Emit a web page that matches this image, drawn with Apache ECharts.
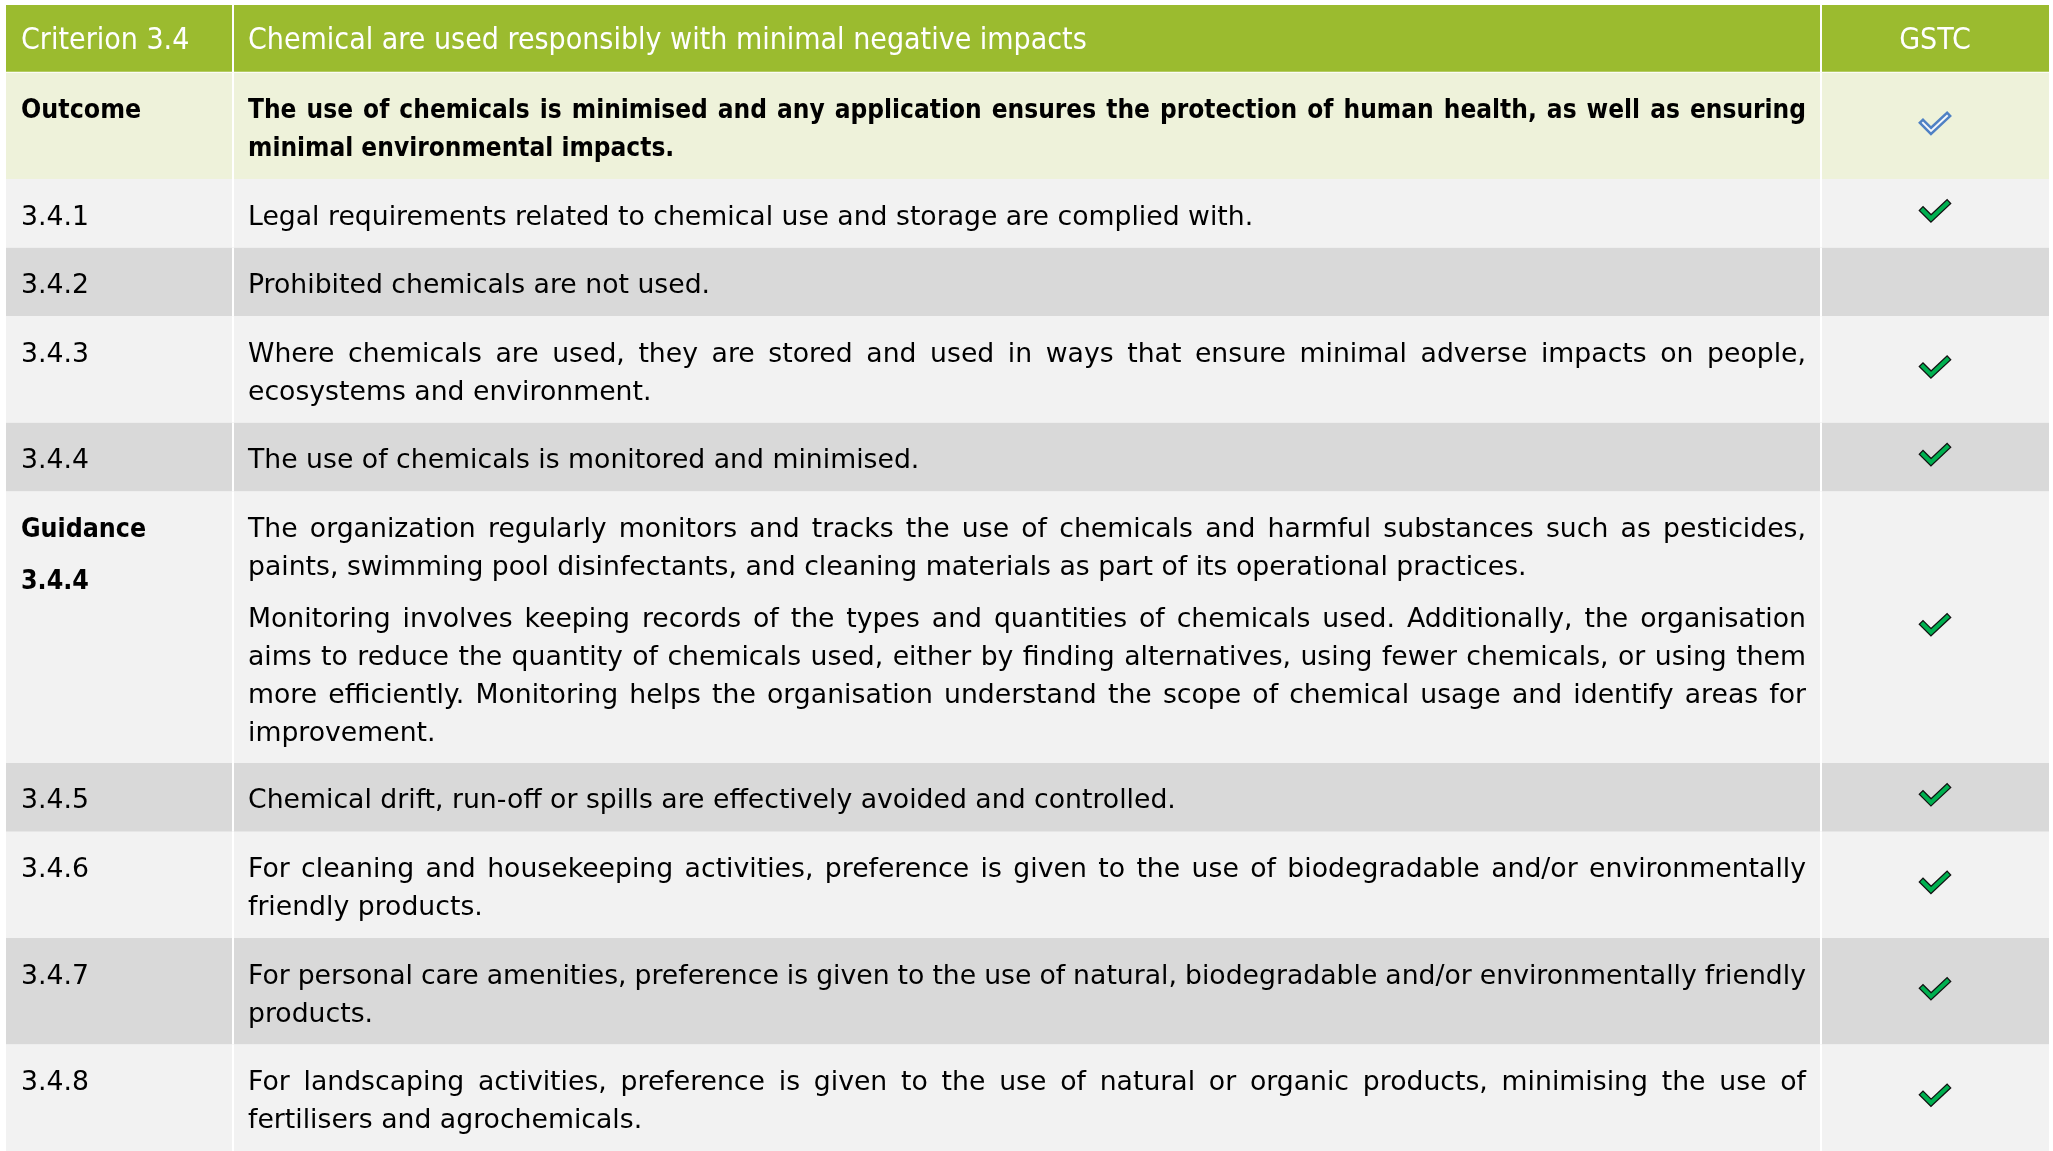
<!DOCTYPE html>
<html>
<head>
<meta charset="utf-8">
<title>Criterion 3.4</title>
<script src="https://cdn.jsdelivr.net/npm/echarts@6/dist/echarts.min.js"></script>
<style>
html, body { margin: 0; padding: 0; background: #fff; }
#main { width: 2053px; height: 1151px; }
</style>
</head>
<body>
<div id="main"></div>
<script>
// table content
var headerCells = ['Criterion 3.4', 'Chemical are used responsibly with minimal negative impacts', 'GSTC'];
var rowLabels = ['Outcome', '3.4.1', '3.4.2', '3.4.3', '3.4.4', 'Guidance\n\n3.4.4', '3.4.5', '3.4.6', '3.4.7', '3.4.8'];
var rowTexts = [
    'The use of chemicals is minimised and any application ensures the protection of human health, as well as ensuring\nminimal environmental impacts.',
    'Legal requirements related to chemical use and storage are complied with.',
    'Prohibited chemicals are not used.',
    'Where chemicals are used, they are stored and used in ways that ensure minimal adverse impacts on people,\necosystems and environment.',
    'The use of chemicals is monitored and minimised.',
    'The organization regularly monitors and tracks the use of chemicals and harmful substances such as pesticides,\npaints, swimming pool disinfectants, and cleaning materials as part of its operational practices.\n\nMonitoring involves keeping records of the types and quantities of chemicals used. Additionally, the organisation\naims to reduce the quantity of chemicals used, either by finding alternatives, using fewer chemicals, or using them\nmore efficiently. Monitoring helps the organisation understand the scope of chemical usage and identify areas for\nimprovement.',
    'Chemical drift, run-off or spills are effectively avoided and controlled.',
    'For cleaning and housekeeping activities, preference is given to the use of biodegradable and/or environmentally\nfriendly products.',
    'For personal care amenities, preference is given to the use of natural, biodegradable and/or environmentally friendly\nproducts.',
    'For landscaping activities, preference is given to the use of natural or organic products, minimising the use of\nfertilisers and agrochemicals.'
];
var gstcMarks = ['outcome', 'yes', '', 'yes', 'yes', 'yes', 'yes', 'yes', 'yes', 'yes'];

// layout and style
var COL_W = [227, 1588, 228];
var TABLE_W = COL_W[0] + COL_W[1] + COL_W[2];
var PAD_L = 15, PAD_R = 15;
var HEADER_H = 68, ROW_H = 69, LINE_H = 38, PARA_GAP = 14;
var TEXT_DY = 4, HEAD_DY = 2;
var GREEN = '#9BBB2F', OUTCOME_BG = '#EEF2DA', LIGHT_BG = '#F2F2F2', DARK_BG = '#D9D9D9';
var FONT_BODY = '26.7px "DejaVu Sans"';
var FONT_HEAD = '30px "DejaVu Sans Condensed"';
var FONT_LABEL_BOLD = 'bold 26.5px "DejaVu Sans Condensed"';
var FONT_OUTCOME = 'bold 26px "DejaVu Sans Condensed"';

var ctx = document.createElement('canvas').getContext('2d');
function textWidth(s, font) {
    ctx.font = font;
    return ctx.measureText(s).width;
}
function paragraphs(s) {
    return s.split('\n\n').map(function (p) { return p.split('\n'); });
}
function blockHeight(s) {
    var ps = paragraphs(s), n = 0;
    ps.forEach(function (p) { n += p.length; });
    return ROW_H + (n - 1) * LINE_H + (ps.length - 1) * PARA_GAP;
}

// row heights from the number of text lines
var rowHeights = [HEADER_H];
rowTexts.forEach(function (t, i) {
    rowHeights.push(Math.max(blockHeight(t), blockHeight(rowLabels[i])));
});
var rowTops = [0];
for (var k = 1; k < rowHeights.length; k++) rowTops.push(rowTops[k - 1] + rowHeights[k - 1]);
var TABLE_H = rowTops[rowTops.length - 1] + rowHeights[rowHeights.length - 1];

// text block: left aligned, or justified on all but the last line of a paragraph
function textBlock(s, x0, y0, width, font, fill, justify) {
    var out = [];
    var y = y0 + ROW_H / 2 + TEXT_DY;
    paragraphs(s).forEach(function (lines, pi) {
        if (pi > 0) y += PARA_GAP;
        lines.forEach(function (line, li) {
            var words = line.split(' ');
            if (justify && li < lines.length - 1 && words.length > 1) {
                var total = 0;
                words.forEach(function (w) { total += textWidth(w, font); });
                var gap = (width - total) / (words.length - 1);
                var x = x0;
                words.forEach(function (w) {
                    out.push({ type: 'text', style: { x: x, y: y, text: w, font: font, fill: fill, align: 'left', verticalAlign: 'middle' } });
                    x += textWidth(w, font) + gap;
                });
            } else {
                out.push({ type: 'text', style: { x: x0, y: y, text: line, font: font, fill: fill, align: 'left', verticalAlign: 'middle' } });
            }
            y += LINE_H;
        });
    });
    return out;
}

function checkMark(cx, cy, kind) {
    var pts = [[cx - 12, cy - 1], [cx - 4, cy + 7], [cx + 12, cy - 8]];
    var blue = kind === 'outcome';
    return [
        { type: 'polyline', shape: { points: pts }, style: { stroke: blue ? '#4F81C4' : '#111', lineWidth: blue ? 7 : 6.5, fill: null, lineJoin: 'miter', lineCap: 'square' } },
        { type: 'polyline', shape: { points: pts }, style: { stroke: blue ? '#F4F7FB' : '#00B050', lineWidth: blue ? 2 : 4, fill: null, lineJoin: 'miter', lineCap: 'square' } }
    ];
}

function renderRow(params, api) {
    var r = api.value(0);
    var tl = api.coord([0, rowTops[r]]);
    var br = api.coord([TABLE_W, rowTops[r] + rowHeights[r]]);
    var x1 = api.coord([COL_W[0], 0])[0];
    var x2 = api.coord([COL_W[0] + COL_W[1], 0])[0];
    var h = br[1] - tl[1];
    var bg = r === 0 ? GREEN : r === 1 ? OUTCOME_BG : (r % 2 === 0 ? LIGHT_BG : DARK_BG);
    var children = [
        { type: 'rect', shape: { x: tl[0], y: tl[1], width: br[0] - tl[0], height: h }, style: { fill: bg } }
    ];
    if (r === 0) {
        var ym = tl[1] + h / 2 + HEAD_DY;
        children.push({ type: 'text', style: { x: tl[0] + PAD_L, y: ym, text: headerCells[0], font: FONT_HEAD, fill: '#fff', align: 'left', verticalAlign: 'middle' } });
        children.push({ type: 'text', style: { x: x1 + PAD_L, y: ym, text: headerCells[1], font: FONT_HEAD, fill: '#fff', align: 'left', verticalAlign: 'middle' } });
        children.push({ type: 'text', style: { x: (x2 + br[0]) / 2, y: ym, text: headerCells[2], font: FONT_HEAD, fill: '#fff', align: 'center', verticalAlign: 'middle' } });
        children.push({ type: 'rect', shape: { x: tl[0], y: br[1] - 1, width: br[0] - tl[0], height: 2 }, style: { fill: '#fff' } });
    } else {
        var i = r - 1;
        var label = rowLabels[i];
        var labelFont = /^[A-Z]/.test(label) ? FONT_LABEL_BOLD : FONT_BODY;
        children = children.concat(textBlock(label, tl[0] + PAD_L, tl[1], COL_W[0], labelFont, '#000', false));
        children = children.concat(textBlock(rowTexts[i], x1 + PAD_L, tl[1], x2 - x1 - PAD_L - PAD_R,
            i === 0 ? FONT_OUTCOME : FONT_BODY, '#000', true));
        if (gstcMarks[i]) {
            children = children.concat(checkMark((x2 + br[0]) / 2, tl[1] + h / 2 - 2, gstcMarks[i]));
        }
    }
    // white column rules
    children.push({ type: 'rect', shape: { x: x1 - 1, y: tl[1], width: 2, height: h }, style: { fill: '#fff' } });
    children.push({ type: 'rect', shape: { x: x2 - 1, y: tl[1], width: 2, height: h }, style: { fill: '#fff' } });
    return { type: 'group', children: children };
}

var rowData = rowHeights.map(function (h, i) { return [i]; });

var chart = echarts.init(document.getElementById('main'));
var option = {
    animation: false,
    grid: { left: 6, top: 5, width: TABLE_W, height: TABLE_H },
    xAxis: { type: 'value', min: 0, max: TABLE_W, show: false },
    yAxis: { type: 'value', min: 0, max: TABLE_H, inverse: true, show: false },
    series: [{
        type: 'custom',
        clip: false,
        renderItem: renderRow,
        encode: { x: -1, y: -1 },
        data: rowData
    }]
};
chart.setOption(option);
</script>
</body>
</html>
